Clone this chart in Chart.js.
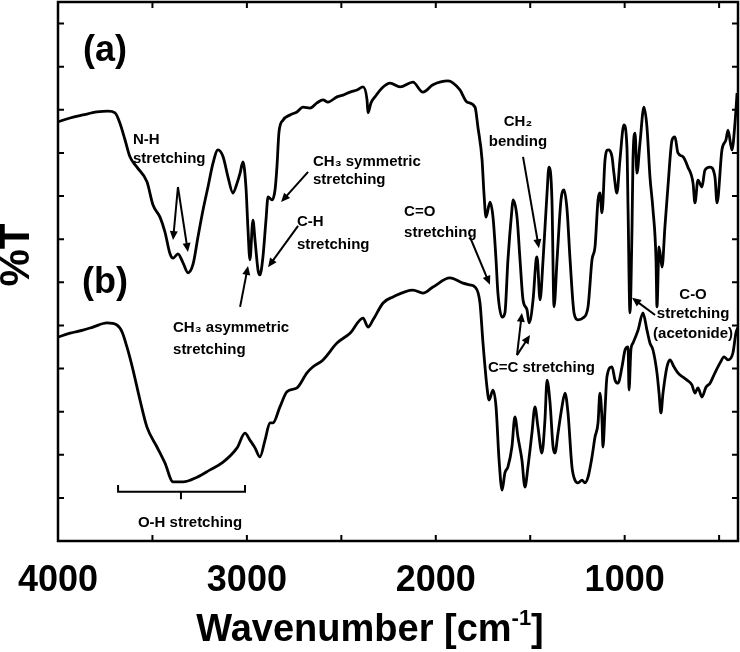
<!DOCTYPE html>
<html>
<head>
<meta charset="utf-8">
<script src="https://cdn.jsdelivr.net/npm/chart.js@4.4.1/dist/chart.umd.min.js"></script>
<style>
  html, body { margin: 0; padding: 0; background: #fff; }
</style>
</head>
<body>
<canvas id="ir" width="740" height="652"></canvas>
<script>
// FTIR spectra: (a) top trace, (b) bottom trace. x = wavenumber [cm-1], y = %T (arbitrary units)

const waveA = [
  4000, 3936, 3868, 3794, 3735, 3698, 3672, 3645, 3619, 3582,
  3529, 3497, 3460, 3434, 3407, 3391, 3365, 3338, 3312, 3285,
  3259, 3232, 3206, 3179, 3153, 3126, 3100, 3074, 3052, 3036,
  3021, 3005, 2994, 2984, 2968, 2957, 2941, 2931, 2915, 2899,
  2888, 2867, 2851, 2841, 2830, 2809, 2772, 2735, 2703, 2666,
  2629, 2597, 2571, 2523, 2491, 2454, 2417, 2385, 2364, 2359,
  2343, 2322, 2279, 2242, 2189, 2121, 2068, 2015, 1935, 1872,
  1835, 1792, 1777, 1755, 1745, 1734, 1713, 1697, 1681, 1671,
  1649, 1634, 1618, 1597, 1591, 1570, 1554, 1538, 1517, 1506,
  1485, 1469, 1464, 1448, 1432, 1411, 1401, 1385, 1374, 1358,
  1337, 1321, 1305, 1289, 1268, 1247, 1221, 1194, 1173, 1157,
  1141, 1131, 1120, 1104, 1088, 1067, 1057, 1041, 1025, 1004,
  988, 982, 972, 961, 956, 945, 935, 919, 898, 882,
  866, 850, 834, 829, 818, 802, 787, 771, 749, 734,
  718, 691, 665, 638, 628, 612, 591, 575, 548, 522,
  511, 485, 464, 453, 432, 416, 405
];
const transA = [
  97.2, 98.1, 98.8, 99.5, 99.7, 99.3, 96.9, 93.0, 89.1, 86.7,
  83.3, 77.9, 75.1, 71.7, 66.6, 65.6, 66.6, 64.5, 62.2, 64.2,
  70.5, 76.8, 82.1, 87.7, 90.7, 89.1, 84.4, 80.7, 83.0, 85.3,
  87.9, 82.1, 72.1, 65.2, 74.4, 69.8, 62.8, 61.7, 65.9, 74.4,
  79.8, 79.1, 81.4, 86.7, 94.9, 97.6, 98.8, 99.5, 100.6, 100.4,
  101.6, 102.3, 101.8, 103.0, 103.4, 104.1, 104.6, 105.3, 102.3, 99.3,
  101.6, 103.0, 105.3, 106.2, 105.3, 106.4, 104.1, 105.8, 106.7, 104.6,
  101.8, 100.6, 96.0, 88.4, 80.7, 75.1, 78.6, 75.1, 65.2, 57.5,
  51.9, 52.9, 65.2, 76.8, 79.1, 75.1, 65.2, 55.9, 53.6, 50.6,
  55.9, 65.2, 65.9, 55.9, 65.2, 80.7, 86.7, 79.1, 54.3, 65.2,
  79.1, 81.4, 76.8, 65.2, 52.9, 51.3, 51.7, 54.3, 65.2, 68.2,
  79.1, 80.7, 76.1, 88.4, 90.7, 89.1, 85.3, 80.7, 88.4, 96.5,
  91.4, 76.8, 52.9, 72.8, 88.4, 94.6, 85.3, 92.3, 100.6, 96.0,
  84.4, 76.8, 65.2, 54.3, 68.2, 63.5, 72.8, 82.1, 93.0, 93.7,
  90.0, 89.1, 86.7, 83.0, 78.4, 83.7, 82.1, 86.0, 86.7, 84.4,
  78.4, 90.7, 93.0, 95.3, 90.7, 96.9, 103.9
];

const waveB = [
  4000, 3936, 3868, 3815, 3741, 3688, 3661, 3635, 3603, 3566,
  3529, 3476, 3434, 3391, 3338, 3264, 3195, 3126, 3052, 3010,
  2984, 2957, 2931, 2904, 2878, 2862, 2825, 2788, 2735, 2682,
  2650, 2597, 2523, 2454, 2385, 2359, 2332, 2279, 2227, 2121,
  2068, 2015, 1925, 1856, 1819, 1792, 1766, 1750, 1729, 1718,
  1697, 1681, 1665, 1649, 1634, 1618, 1597, 1581, 1565, 1544,
  1528, 1512, 1491, 1475, 1459, 1438, 1422, 1411, 1395, 1379,
  1369, 1353, 1332, 1316, 1300, 1279, 1263, 1247, 1226, 1210,
  1194, 1173, 1157, 1141, 1131, 1120, 1115, 1104, 1094, 1067,
  1051, 1035, 1014, 998, 982, 977, 967, 956, 929, 903,
  882, 866, 850, 829, 818, 808, 797, 776, 760, 739,
  718, 691, 670, 644, 628, 612, 591, 569, 548, 522,
  495, 474, 453, 427, 411, 400
];
const transB = [
  47.3, 48.2, 48.9, 49.6, 50.6, 50.1, 48.5, 45.0, 39.7, 32.7,
  26.4, 21.8, 18.1, 13.7, 13.7, 14.8, 16.5, 18.3, 21.6, 25.0,
  23.4, 21.6, 19.5, 23.4, 27.4, 27.4, 31.1, 34.6, 35.5, 39.0,
  40.4, 42.0, 45.9, 48.2, 51.7, 49.6, 51.3, 55.2, 56.6, 58.2,
  57.5, 58.9, 61.0, 59.8, 59.4, 58.9, 55.2, 45.9, 35.7, 32.7,
  35.0, 31.1, 18.8, 11.8, 15.8, 17.2, 21.8, 28.8, 24.1, 18.8,
  12.5, 17.2, 25.0, 31.1, 26.4, 20.4, 28.1, 37.3, 32.0, 21.8,
  20.4, 25.0, 31.1, 34.3, 29.7, 17.2, 14.1, 13.5, 14.1, 13.5,
  14.8, 19.5, 24.1, 27.4, 34.3, 28.1, 21.8, 30.4, 38.0, 40.4,
  37.3, 36.6, 40.4, 44.3, 45.0, 35.0, 44.3, 45.9, 48.9, 52.9,
  48.9, 45.9, 44.3, 39.0, 34.3, 29.7, 34.3, 40.4, 42.0, 40.4,
  39.0, 38.0, 37.3, 36.2, 34.3, 35.5, 33.4, 35.7, 36.6, 39.0,
  41.3, 42.7, 42.0, 43.6, 48.2, 49.6
];

// axis ticks
const xLabelValues = [4000, 3000, 2000, 1000];
const xTickMarks = [3500, 3000, 2500, 2000, 1500, 1000, 500];
const yTickMarks = [10, 20, 30, 40, 50, 60, 70, 80, 90, 100, 110, 120];

// peak annotations, anchored in data units
const notes = [
  { text: "(a)", wn: 3751, t: 113.6, align: "center", big: true },
  { text: "(b)", wn: 3751, t: 59.8, align: "center", big: true },
  { text: "N-H", wn: 3603, t: 93.0, align: "left" },
  { text: "stretching", wn: 3603, t: 88.6, align: "left" },
  { text: "CH\u2083 symmetric", wn: 2650, t: 87.9, align: "left" },
  { text: "stretching", wn: 2650, t: 83.7, align: "left" },
  { text: "C-H", wn: 2735, t: 74.0, align: "left" },
  { text: "stretching", wn: 2735, t: 68.6, align: "left" },
  { text: "CH\u2083 asymmetric", wn: 3391, t: 49.4, align: "left" },
  { text: "stretching", wn: 3391, t: 44.3, align: "left" },
  { text: "C=O", wn: 2168, t: 76.3, align: "left" },
  { text: "stretching", wn: 2168, t: 71.4, align: "left" },
  { text: "CH\u2082", wn: 1565, t: 97.2, align: "center" },
  { text: "bending", wn: 1565, t: 92.5, align: "center" },
  { text: "C=C stretching", wn: 1724, t: 40.1, align: "left" },
  { text: "C-O", wn: 638, t: 57.1, align: "center" },
  { text: "stretching", wn: 638, t: 52.6, align: "center" },
  { text: "(acetonide)", wn: 638, t: 48.0, align: "center" },
  { text: "O-H stretching", wn: 3301, t: 4.2, align: "center" },
];

const arrows = [
  { from: [3365, 82.1], to: [3391, 69.8] },
  { from: [3365, 82.1], to: [3312, 67.0] },
  { from: [2676, 85.6], to: [2819, 78.6] },
  { from: [2729, 73.1], to: [2888, 63.5] },
  { from: [3036, 54.3], to: [2994, 63.8] },
  { from: [1819, 70.5], to: [1713, 59.4] },
  { from: [1538, 89.1], to: [1454, 67.9] },
  { from: [1570, 43.1], to: [1544, 52.9] },
  { from: [1570, 43.1], to: [1501, 47.8] },
  { from: [839, 52.4], to: [961, 56.4] },
];

// O-H bracket: left end, right end, centre, line level
const bracketWn = [3682, 3010, 3349];
const bracketT = [11.4, 13.0, 9.7];

const FONT = "'Liberation Sans', Arial, 'DejaVu Sans', sans-serif";

function toPoints(xs, ys) {
  return xs.map((x, i) => ({ x: x, y: ys[i] }));
}

function drawArrow(ctx, x1, y1, x2, y2) {
  const ang = Math.atan2(y2 - y1, x2 - x1);
  const len = 9, half = 4;
  const c = Math.cos(ang), s = Math.sin(ang);
  ctx.beginPath();
  ctx.moveTo(x1, y1);
  ctx.lineTo(x2 - c * len * 0.7, y2 - s * len * 0.7);
  ctx.stroke();
  ctx.beginPath();
  ctx.moveTo(x2, y2);
  ctx.lineTo(x2 - c * len - s * half, y2 - s * len + c * half);
  ctx.lineTo(x2 - c * len + s * half, y2 - s * len - c * half);
  ctx.closePath();
  ctx.fill();
}

const decorations = {
  id: "decorations",
  afterDraw(chart) {
    const { ctx, chartArea: a, scales } = chart;
    const x = scales.x, y = scales.y;
    ctx.save();
    ctx.strokeStyle = "#000";
    ctx.fillStyle = "#000";

    // frame
    ctx.lineWidth = 2.5;
    ctx.strokeRect(a.left, a.top, a.right - a.left, a.bottom - a.top);

    // inward ticks on all four sides
    ctx.lineWidth = 2;
    ctx.beginPath();
    xTickMarks.forEach((v) => {
      const px = x.getPixelForValue(v);
      ctx.moveTo(px, a.bottom); ctx.lineTo(px, a.bottom - 6);
      ctx.moveTo(px, a.top); ctx.lineTo(px, a.top + 6);
    });
    yTickMarks.forEach((v) => {
      const py = y.getPixelForValue(v);
      ctx.moveTo(a.left, py); ctx.lineTo(a.left + 6, py);
      ctx.moveTo(a.right, py); ctx.lineTo(a.right - 6, py);
    });
    ctx.stroke();

    // arrows
    ctx.lineWidth = 2;
    arrows.forEach((ar) => {
      drawArrow(ctx,
        x.getPixelForValue(ar.from[0]), y.getPixelForValue(ar.from[1]),
        x.getPixelForValue(ar.to[0]), y.getPixelForValue(ar.to[1]));
    });

    // O-H bracket
    const bl = x.getPixelForValue(bracketWn[0]);
    const br = x.getPixelForValue(bracketWn[1]);
    const bc = x.getPixelForValue(bracketWn[2]);
    const by = y.getPixelForValue(bracketT[0]);
    const bup = y.getPixelForValue(bracketT[1]);
    const bdn = y.getPixelForValue(bracketT[2]);
    ctx.beginPath();
    ctx.moveTo(bl, bup); ctx.lineTo(bl, by); ctx.lineTo(br, by); ctx.lineTo(br, bup);
    ctx.moveTo(bc, by); ctx.lineTo(bc, bdn);
    ctx.stroke();

    // text notes
    ctx.textBaseline = "middle";
    notes.forEach((n) => {
      ctx.font = n.big ? "bold 36px " + FONT : "bold 15px " + FONT;
      ctx.textAlign = n.align;
      ctx.fillText(n.text, x.getPixelForValue(n.wn), y.getPixelForValue(n.t));
    });

    // y title
    ctx.save();
    ctx.translate(17, 255);
    ctx.rotate(-Math.PI / 2);
    ctx.font = "bold 42px " + FONT;
    ctx.textAlign = "center";
    ctx.fillText("%T", 0, 0);
    ctx.restore();

    // x title with superscript
    const main1 = "Wavenumber [cm", sup = "-1", main2 = "]";
    ctx.font = "bold 38px " + FONT;
    const w1 = ctx.measureText(main1).width, w3 = ctx.measureText(main2).width;
    ctx.font = "bold 22px " + FONT;
    const w2 = ctx.measureText(sup).width;
    let tx = 370 - (w1 + w2 + w3) / 2;
    const ty = 631;
    ctx.textAlign = "left";
    ctx.font = "bold 38px " + FONT;
    ctx.fillText(main1, tx, ty);
    ctx.font = "bold 22px " + FONT;
    ctx.fillText(sup, tx + w1, ty - 12);
    ctx.font = "bold 38px " + FONT;
    ctx.fillText(main2, tx + w1 + w2, ty);

    ctx.restore();
  },
};

new Chart(document.getElementById("ir"), {
  type: "line",
  data: {
    datasets: [
      {
        label: "(a)",
        data: toPoints(waveA, transA),
        borderColor: "#000",
        borderWidth: 2.8,
        pointRadius: 0,
        cubicInterpolationMode: "monotone",
      },
      {
        label: "(b)",
        data: toPoints(waveB, transB),
        borderColor: "#000",
        borderWidth: 2.8,
        pointRadius: 0,
        cubicInterpolationMode: "monotone",
      },
    ],
  },
  options: {
    responsive: false,
    animation: false,
    layout: { padding: { left: 58, right: 2, top: 2, bottom: 0 } },
    plugins: {
      legend: { display: false },
      tooltip: { enabled: false },
    },
    scales: {
      x: {
        type: "linear",
        min: 400,
        max: 4000,
        reverse: true,
        grid: { display: false, drawTicks: false },
        border: { display: false },
        afterBuildTicks: (s) => {
          s.ticks = xLabelValues.map((v) => ({ value: v }));
        },
        ticks: {
          autoSkip: false,
          maxRotation: 0,
          minRotation: 0,
          padding: 18,
          color: "#000",
          font: { family: FONT, size: 36, weight: "bold" },
          callback: (v) => String(v),
        },
        afterFit: (s) => {
          s.height = 111;
          s.paddingLeft = 0;
          s.paddingRight = 0;
        },
      },
      y: {
        display: false,
        min: 0,
        max: 125,
      },
    },
  },
  plugins: [decorations],
});
</script>
</body>
</html>
